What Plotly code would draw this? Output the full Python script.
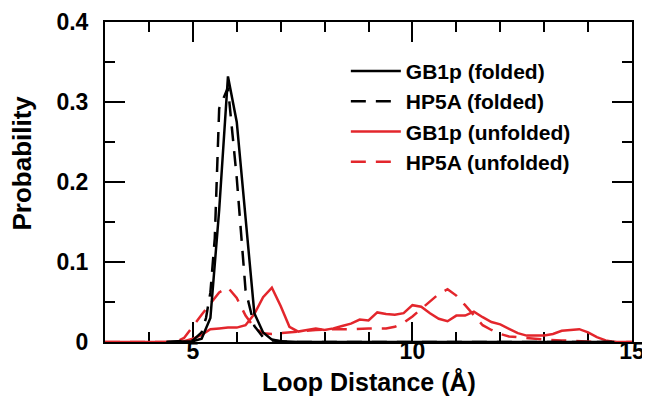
import plotly.graph_objects as go

# GB1p folded (solid black)
gb1p_f_x = [4.4, 5.0, 5.2, 5.4, 5.6, 5.8, 6.0, 6.2, 6.4, 6.6, 6.8, 7.0, 7.4, 14.6]
gb1p_f_y = [0.0, 0.001, 0.004, 0.03, 0.165, 0.332, 0.275, 0.155, 0.036, 0.012, 0.003, 0.001, 0.0, 0.0]

# HP5A folded (dashed black)
hp5a_f_x = [4.4, 5.0, 5.2, 5.3, 5.4, 5.5, 5.6, 5.8, 6.0, 6.2, 6.4, 6.6, 6.8, 7.2, 14.6]
hp5a_f_y = [0.0, 0.002, 0.012, 0.03, 0.062, 0.13, 0.292, 0.318, 0.205, 0.065, 0.02, 0.006, 0.002, 0.0, 0.0]

# GB1p unfolded (solid red)
gb1p_u_x = [3.0, 4.6, 4.8, 5.0, 5.2, 5.4, 5.6, 5.8, 6.0, 6.2, 6.4, 6.6, 6.8, 7.0, 7.2,
            7.4, 7.6, 7.8, 8.0, 8.2, 8.4, 8.6, 8.8, 9.0, 9.2, 9.4, 9.6, 9.8, 10.0,
            10.2, 10.4, 10.6, 10.8, 11.0, 11.2, 11.4, 11.6, 11.8, 12.0, 12.2, 12.4,
            12.6, 12.8, 13.0, 13.2, 13.4, 13.6, 13.8, 14.0, 14.2, 14.4, 14.6, 15.0]
gb1p_u_y = [0.0, 0.0, 0.001, 0.004, 0.009, 0.016, 0.017, 0.018, 0.018, 0.021, 0.035, 0.056, 0.068, 0.045, 0.019,
            0.013, 0.015, 0.017, 0.015, 0.017, 0.02, 0.023, 0.028, 0.027, 0.037, 0.035, 0.034, 0.036, 0.046,
            0.044, 0.036, 0.029, 0.026, 0.033, 0.033, 0.038, 0.031, 0.025, 0.022, 0.016, 0.011,
            0.008, 0.008, 0.008, 0.01, 0.014, 0.015, 0.016, 0.012, 0.006, 0.002, 0.0, 0.0]

# HP5A unfolded (dashed red)
hp5a_u_x = [3.0, 4.6, 4.8, 5.0, 5.2, 5.4, 5.6, 5.8, 6.0, 6.2, 6.4, 6.6, 6.8, 7.0, 7.4,
            7.8, 8.2, 8.6, 9.0, 9.4, 9.6, 9.8, 10.0, 10.2, 10.4, 10.6, 10.8, 11.0, 11.2,
            11.4, 11.6, 11.8, 12.0, 12.2, 12.6, 13.0, 13.4, 13.8, 14.2, 15.0]
hp5a_u_y = [0.0, 0.0, 0.005, 0.02, 0.034, 0.048, 0.062, 0.068, 0.055, 0.033, 0.018, 0.011, 0.01, 0.011, 0.013,
            0.015, 0.016, 0.016, 0.017, 0.017, 0.019, 0.024, 0.032, 0.041, 0.05, 0.06, 0.066, 0.058, 0.046,
            0.033, 0.021, 0.015, 0.01, 0.007, 0.005, 0.003, 0.002, 0.001, 0.0, 0.0]

RED = "#e3262c"
FONT = "Liberation Sans, Arial, sans-serif"

fig = go.Figure()
fig.add_trace(go.Scatter(x=gb1p_u_x, y=gb1p_u_y, mode="lines", name="GB1p (unfolded)",
                         line=dict(color=RED, width=2.5), legendrank=3))
fig.add_trace(go.Scatter(x=hp5a_u_x, y=hp5a_u_y, mode="lines", name="HP5A (unfolded)",
                         line=dict(color=RED, width=2.5, dash="15px,10px"), legendrank=4))
fig.add_trace(go.Scatter(x=gb1p_f_x, y=gb1p_f_y, mode="lines", name="GB1p (folded)",
                         line=dict(color="black", width=2.5), legendrank=1))
fig.add_trace(go.Scatter(x=hp5a_f_x, y=hp5a_f_y, mode="lines", name="HP5A (folded)",
                         line=dict(color="black", width=2.5, dash="15px,10px"), legendrank=2))

axis_common = dict(showline=True, linecolor="black", linewidth=2, mirror="ticks",
                   ticks="inside", tickcolor="black", tickwidth=2, ticklen=20,
                   showgrid=False, zeroline=False, layer="below traces", automargin=False,
                   tickfont=dict(size=23, color="black", family=FONT, weight="bold"))

fig.update_xaxes(range=[3, 15], tick0=0, dtick=5, ticklabelstandoff=-13,
                 minor=dict(dtick=1, ticklen=10, tickwidth=2, tickcolor="black", ticks="inside"),
                 **axis_common)
fig.update_yaxes(range=[0, 0.4], tick0=0, dtick=0.1, ticklabelstandoff=10,
                 minor=dict(dtick=0.05, ticklen=10, tickwidth=2, tickcolor="black", ticks="inside"),
                 **axis_common)

fig.update_layout(
    width=650, height=400,
    margin=dict(l=97, r=26, t=14, b=66),
    paper_bgcolor="white", plot_bgcolor="white",
    font=dict(family=FONT, size=21, color="black", weight="bold"),
    showlegend=True,
    legend=dict(x=0.457, y=0.91, xanchor="left", yanchor="top", itemwidth=50,
                bgcolor="rgba(0,0,0,0)", font=dict(size=21, family=FONT, weight="bold"),
                traceorder="normal"),
    annotations=[
        dict(text="Probability", xref="paper", yref="paper", x=-0.158, y=0.56,
             xanchor="center", yanchor="middle",
             showarrow=False, textangle=-90, font=dict(size=26, family=FONT, weight="bold")),
        dict(text="Loop Distance (Å)", xref="paper", yref="paper", x=0.5, y=-0.125,
             xanchor="center", yanchor="middle", showarrow=False,
             font=dict(size=25, family=FONT, weight="bold")),
    ],
)

fig.write_html("out.html")
